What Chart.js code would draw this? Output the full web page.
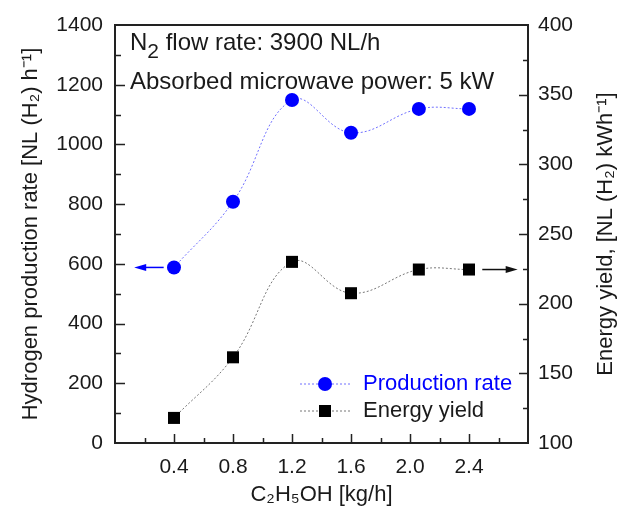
<!DOCTYPE html>
<html lang="en">
  <head>
    <meta charset="UTF-8" />
    <title>Hydrogen production vs ethanol flow</title>
    <script src="https://cdn.jsdelivr.net/npm/chart.js"></script>
    <style>
      * {
        margin: 0;
        padding: 0;
        box-sizing: border-box;
      }
      body {
        background: white;
        width: 619px;
        height: 512px;
      }
      #wrap {
        width: 619px;
        height: 512px;
      }
    </style>
  </head>
  <body>
    <div id="wrap"><canvas id="chart"></canvas></div>

    <script>
      // ethanol feed [kg/h]
      const ethanolFlow = [0.4, 0.8, 1.2, 1.6, 2.06, 2.4];
      // hydrogen production rate [NL(H2)/h]
      const productionRate = [588, 808, 1149, 1039, 1119, 1119];
      // energy yield [NL(H2)/kWh]
      const energyYield = [118, 161.5, 230, 207.5, 224.5, 224.5];

      const xLabels = [0.4, 0.8, 1.2, 1.6, 2.0, 2.4];
      const notes = ["flow rate: 3900 NL/h", "Absorbed microwave power: 5 kW"];
      const leftTitle = "Hydrogen production rate [NL (H₂) h⁻¹]";
      const rightTitle = "Energy yield, [NL (H₂) kWh⁻¹]";
      // arrows: [fromX, toX, value, axis]
      const arrows = [
        [0.33, 0.13, 588, "y"],
        [2.49, 2.73, 224.5, "y1"],
      ];

      const FONT = "'Liberation Sans', Arial, sans-serif";
      const BLUE = "#0000ff";
      const INK = "#1a1a1a";

      // frame, inward ticks, axis titles, notes, arrows and legend
      const decorations = {
        id: "decorations",
        afterDraw(chart) {
          const { ctx, chartArea: a, scales } = chart;
          const x = scales.x, y = scales.y, y1 = scales.y1;
          ctx.save();
          ctx.strokeStyle = "#222";
          ctx.lineWidth = 2;
          ctx.strokeRect(a.left, a.top, a.right - a.left, a.bottom - a.top);

          ctx.lineWidth = 1.5;
          ctx.beginPath();
          for (let v = 0.2; v < 2.8; v += 0.2) {
            const px = Math.round(x.getPixelForValue(v)) + 0.5;
            const major = Math.round(v * 10) % 4 === 0;
            ctx.moveTo(px, a.bottom);
            ctx.lineTo(px, a.bottom - (major ? 9 : 5));
          }
          for (let v = 100; v < 1400; v += 100) {
            const py = Math.round(y.getPixelForValue(v)) + 0.5;
            ctx.moveTo(a.left, py);
            ctx.lineTo(a.left + (v % 200 === 0 ? 10 : 6), py);
          }
          for (let v = 125; v < 400; v += 25) {
            const py = Math.round(y1.getPixelForValue(v)) + 0.5;
            ctx.moveTo(a.right, py);
            ctx.lineTo(a.right - (v % 50 === 0 ? 9 : 5), py);
          }
          ctx.stroke();

          // y axis titles, both reading bottom to top
          const midY = (a.top + a.bottom) / 2;
          ctx.fillStyle = INK;
          ctx.font = "22px " + FONT;
          ctx.textAlign = "center";
          ctx.textBaseline = "middle";
          [[31, leftTitle], [606, rightTitle]].forEach(([cx, t]) => {
            ctx.save();
            ctx.translate(cx, midY);
            ctx.rotate(-Math.PI / 2);
            ctx.fillText(t, 0, 0);
            ctx.restore();
          });

          // notes
          ctx.textBaseline = "alphabetic";
          ctx.textAlign = "left";
          const nx = a.left + 15;
          ctx.font = "24px " + FONT;
          ctx.fillText("N", nx, a.top + 25);
          const nw = ctx.measureText("N").width;
          ctx.font = "21px " + FONT;
          ctx.fillText("2", nx + nw, a.top + 33);
          const sw = ctx.measureText("2").width;
          ctx.font = "24px " + FONT;
          ctx.fillText(" " + notes[0], nx + nw + sw, a.top + 25);
          ctx.fillText(notes[1], nx, a.top + 64);

          // arrows
          arrows.forEach(([x0, x1, v, axis]) => {
            const color = axis === "y" ? BLUE : "#111";
            const py = scales[axis].getPixelForValue(v);
            const p0 = x.getPixelForValue(x0);
            const p1 = x.getPixelForValue(x1);
            const dir = Math.sign(p1 - p0);
            ctx.strokeStyle = color;
            ctx.fillStyle = color;
            ctx.lineWidth = 1.5;
            ctx.beginPath();
            ctx.moveTo(p0, py);
            ctx.lineTo(p1 - dir * 8, py);
            ctx.stroke();
            ctx.beginPath();
            ctx.moveTo(p1, py);
            ctx.lineTo(p1 - dir * 12, py - 3.5);
            ctx.lineTo(p1 - dir * 12, py + 3.5);
            ctx.closePath();
            ctx.fill();
          });

          // legend
          const lx = a.left + 185, ly = a.bottom - 59;
          chart.data.datasets.forEach((ds, i) => {
            const yy = ly + i * 27;
            ctx.strokeStyle = ds.borderColor;
            ctx.lineWidth = 1;
            ctx.setLineDash([2, 2]);
            ctx.beginPath();
            ctx.moveTo(lx, yy);
            ctx.lineTo(lx + 50, yy);
            ctx.stroke();
            ctx.setLineDash([]);
            ctx.fillStyle = ds.pointBackgroundColor;
            if (ds.pointStyle === "rect") {
              ctx.fillRect(lx + 19, yy - 6, 12, 12);
            } else {
              ctx.beginPath();
              ctx.arc(lx + 25, yy, 7, 0, Math.PI * 2);
              ctx.fill();
            }
            ctx.fillStyle = ds.textColor;
            ctx.font = "22px " + FONT;
            ctx.textBaseline = "middle";
            ctx.fillText(ds.label, lx + 63, yy);
          });
          ctx.restore();
        },
      };

      const toPoints = (arr) => ethanolFlow.map((f, i) => ({ x: f, y: arr[i] }));
      const tickFont = { size: 21, family: FONT };

      new Chart(document.getElementById("chart"), {
        type: "scatter",
        data: {
          datasets: [
            {
              label: "Production rate",
              data: toPoints(productionRate),
              yAxisID: "y",
              showLine: true,
              tension: 0.4,
              borderColor: "#7070ff",
              borderWidth: 1,
              borderDash: [2, 2],
              pointStyle: "circle",
              pointRadius: 7,
              pointBackgroundColor: BLUE,
              pointBorderWidth: 0,
              textColor: BLUE,
            },
            {
              label: "Energy yield",
              data: toPoints(energyYield),
              yAxisID: "y1",
              showLine: true,
              tension: 0.4,
              borderColor: "#777",
              borderWidth: 1,
              borderDash: [2, 2],
              pointStyle: "rect",
              pointRadius: 8.5,
              pointBackgroundColor: "#000",
              pointBorderWidth: 0,
              textColor: INK,
            },
          ],
        },
        options: {
          responsive: true,
          maintainAspectRatio: false,
          animation: false,
          layout: { padding: { top: 25, right: 0, left: 0, bottom: 0 } },
          plugins: {
            legend: { display: false },
            tooltip: { enabled: false },
          },
          scales: {
            x: {
              type: "linear",
              min: 0,
              max: 2.8,
              afterFit: (s) => (s.height = 69),
              grid: { display: false },
              border: { display: false },
              ticks: {
                stepSize: 0.4,
                padding: 4,
                color: INK,
                font: tickFont,
                callback: (v) => {
                  const t = Math.round(v * 10) / 10;
                  return xLabels.includes(t) ? t.toFixed(1) : "";
                },
              },
              title: {
                display: true,
                text: "C₂H₅OH [kg/h]",
                color: INK,
                font: { size: 22, family: FONT },
                padding: { top: 4 },
              },
            },
            y: {
              position: "left",
              min: 0,
              max: 1400,
              afterFit: (s) => (s.width = 115),
              grid: { display: false },
              border: { display: false },
              ticks: {
                stepSize: 200,
                padding: 4,
                color: INK,
                font: tickFont,
                callback: (v) => String(v),
              },
            },
            y1: {
              position: "right",
              min: 100,
              max: 400,
              afterFit: (s) => (s.width = 91),
              grid: { display: false },
              border: { display: false },
              ticks: {
                stepSize: 50,
                padding: 2,
                color: INK,
                font: tickFont,
                callback: (v) => String(v),
              },
            },
          },
        },
        plugins: [decorations],
      });
    </script>
  </body>
</html>
